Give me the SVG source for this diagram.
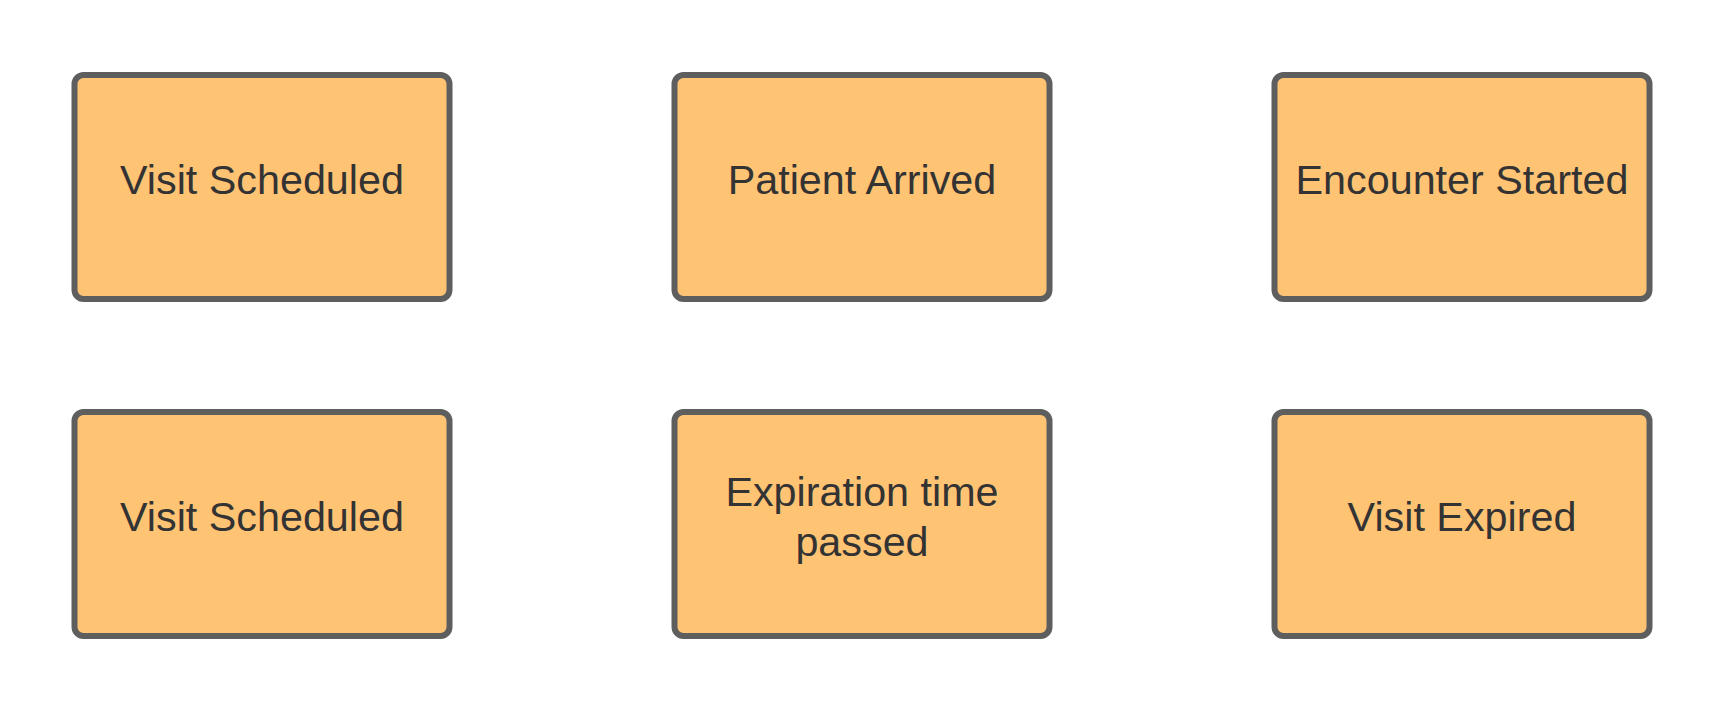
<svg xmlns="http://www.w3.org/2000/svg" width="1725" height="713" viewBox="0 0 1725 713">
<style>
.box{fill:#FFC374;stroke:#5E5E5E;stroke-width:6}
.lbl{font-family:"Liberation Sans",Arial,sans-serif;font-size:41.3px;fill:#333333;text-anchor:middle}
</style>
<rect width="1725" height="713" fill="#FFFFFF"/>
<g id="connectors"></g>
<g id="n1"><rect class="box" x="74.5" y="75" width="375" height="224" rx="9"/><text class="lbl" x="262" y="194">Visit Scheduled</text></g>
<g id="n2"><rect class="box" x="674.5" y="75" width="375" height="224" rx="9"/><text class="lbl" x="862" y="194">Patient Arrived</text></g>
<g id="n3"><rect class="box" x="1274.5" y="75" width="375" height="224" rx="9"/><text class="lbl" x="1462" y="194">Encounter Started</text></g>
<g id="n4"><rect class="box" x="74.5" y="412" width="375" height="224" rx="9"/><text class="lbl" x="262" y="531">Visit Scheduled</text></g>
<g id="n5"><rect class="box" x="674.5" y="412" width="375" height="224" rx="9"/><text class="lbl" x="862" y="506">Expiration time</text><text class="lbl" x="862" y="556">passed</text></g>
<g id="n6"><rect class="box" x="1274.5" y="412" width="375" height="224" rx="9"/><text class="lbl" x="1462" y="531">Visit Expired</text></g>
</svg>
